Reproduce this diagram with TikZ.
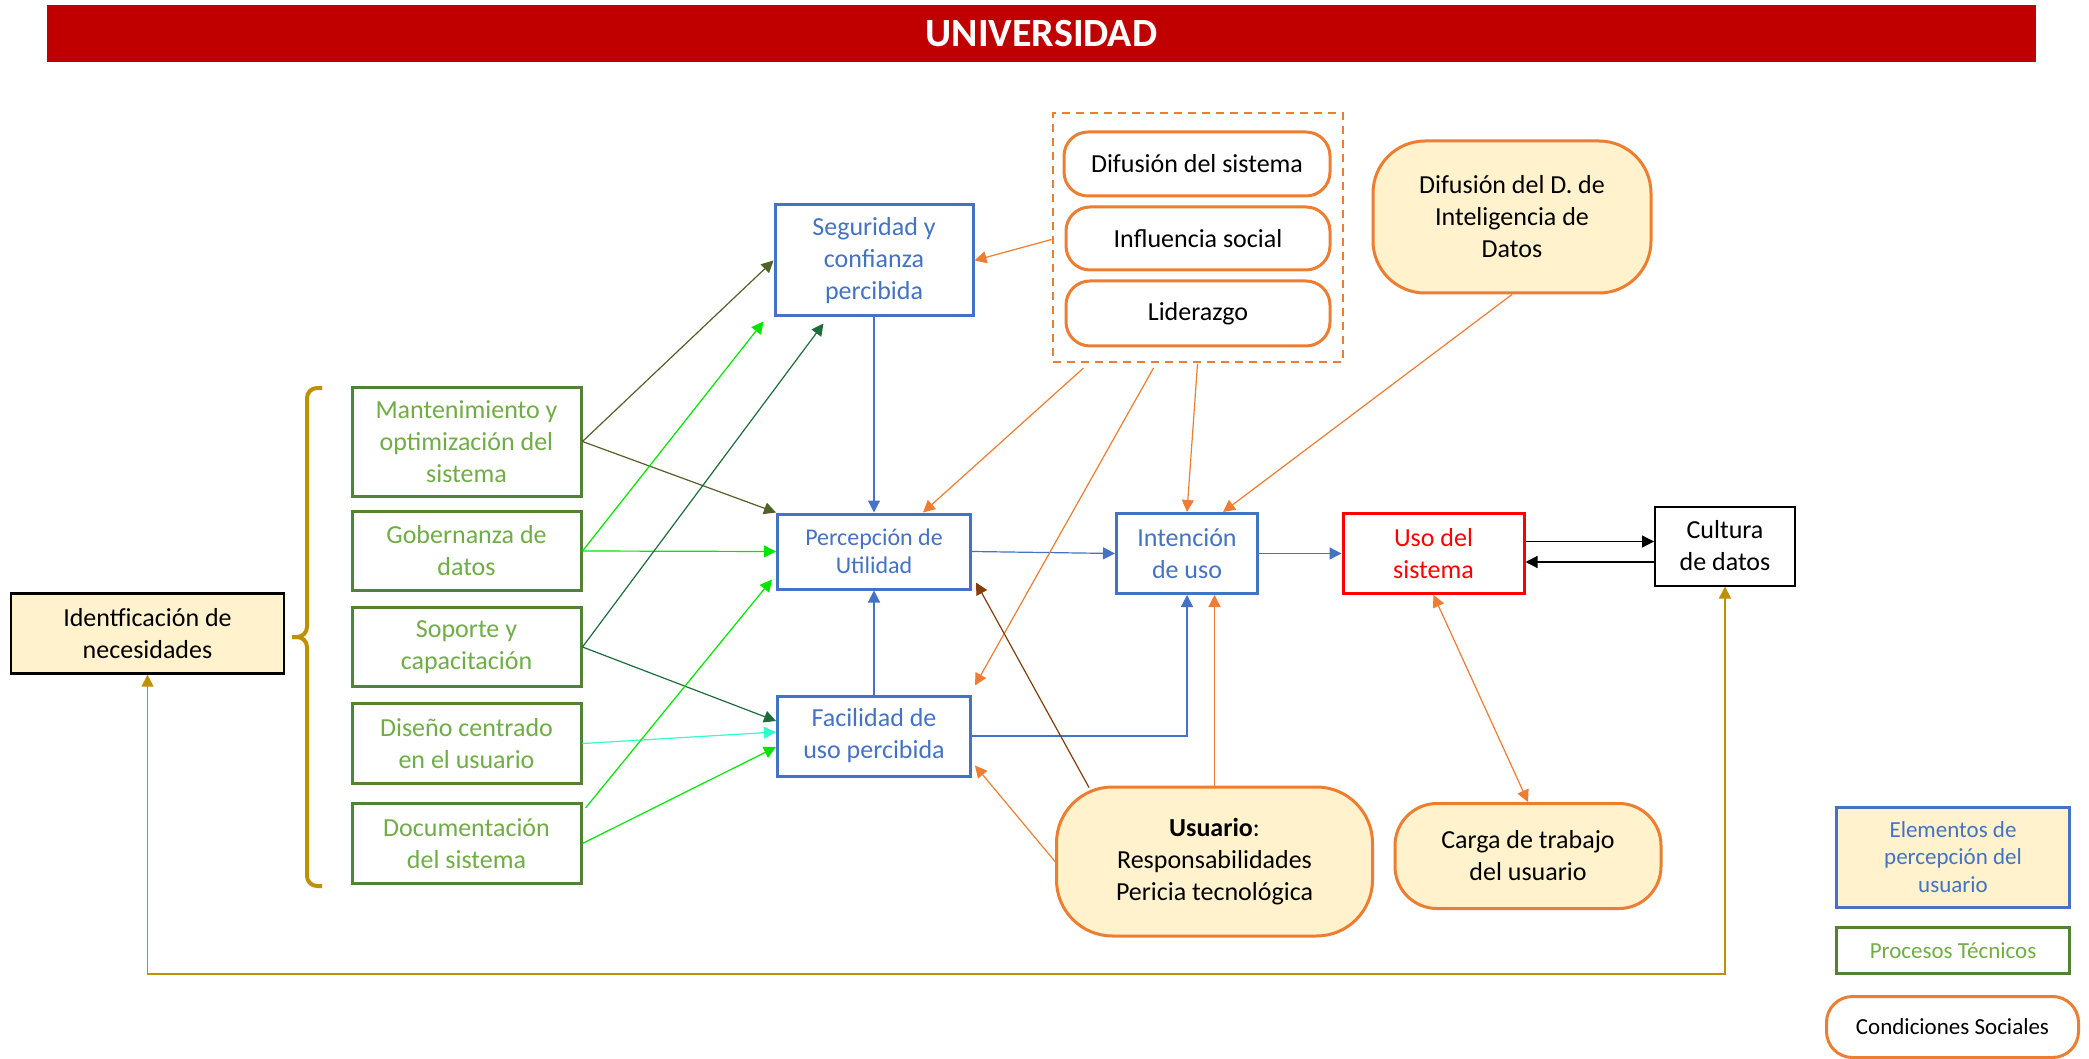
\documentclass[tikz,border=0pt]{standalone}
\usepackage{fontspec}
\setmainfont{Carlito}
\usetikzlibrary{arrows.meta,calc}
\definecolor{ublue}{HTML}{4472C4}
\definecolor{ugreen}{HTML}{70AD47}
\definecolor{dgreen}{HTML}{548235}
\definecolor{uorange}{HTML}{ED7D31}
\definecolor{ucream}{HTML}{FFF2CC}
\definecolor{ured}{HTML}{FF0000}
\definecolor{ubar}{HTML}{C00000}
\definecolor{ugold}{HTML}{BF9000}
\definecolor{olivearr}{HTML}{4F6228}
\definecolor{forestarr}{HTML}{1E6B3C}
\definecolor{limearr}{HTML}{00E600}
\definecolor{aquaarr}{HTML}{33FFCC}
\definecolor{brownarr}{HTML}{843C0C}
\begin{document}
\begin{tikzpicture}[x=0.5pt,y=-0.5pt,
  wh/.style 2 args={minimum width=#1*0.5pt, minimum height=#2*0.5pt},
  box/.style={rectangle, inner sep=2pt, align=center, font=\fontsize{13}{16}\selectfont},
  percbox/.style={box, draw=ublue, line width=1.5pt, text=ublue, fill=white},
  techbox/.style={box, draw=dgreen, line width=1.5pt, text=ugreen, fill=white},
  pill/.style={box, draw=uorange, line width=1.5pt, rounded corners=#1, fill=white},
  pill/.default=12pt,
  creampill/.style={pill=#1, fill=ucream},
  creampill/.default=26pt,
  tip/.style={-{Triangle[length=6pt,width=6pt]}},
  conn/.style={line width=0.6pt, tip},
  olv/.style={conn, color=olivearr},
  frs/.style={conn, color=forestarr},
  lim/.style={conn, color=limearr},
  aqu/.style={conn, color=aquaarr},
  blu/.style={conn, color=ublue},
  blk/.style={conn, color=black},
  orn/.style={conn, color=uorange},
  brn/.style={conn, color=brownarr},
  gld/.style={line width=0.8pt, color=ugold, {Triangle[length=6pt,width=6pt]}-{Triangle[length=6pt,width=6pt]}}
]
\useasboundingbox (0,0) rectangle (2089,1059);

% heading band
\node[wh={1989}{57}, fill=ubar, text=white, font=\bfseries\fontsize{20}{24}\selectfont] (title) at (1041.5,33.5) {UNIVERSIDAD};

% user perception elements
\node[percbox, wh={198}{111}] (seg) at (874,260.5) {Seguridad y\\confianza\\percibida};
\node[percbox, wh={193}{75}, font=\fontsize{12}{14}\selectfont] (per) at (874,551.5) {Percepción de\\Utilidad};
\node[percbox, wh={193}{80}] (fac) at (874,736) {Facilidad de\\uso percibida};
\node[percbox, wh={141}{80}] (int) at (1187,553.5) {Intención\\de uso};

% system use and data culture
\node[box, draw=ured, line width=1.5pt, text=ured, wh={181}{80}] (uso) at (1433.5,553.5) {Uso del\\sistema};
\node[box, draw=black, line width=1pt, wh={140}{79}] (cul) at (1725,546) {Cultura\\de datos};

% technical processes
\node[techbox, wh={229}{109}] (mant) at (466.5,441.5) {Mantenimiento y\\optimización del\\sistema};
\node[techbox, wh={229}{79}] (gob) at (466.5,551) {Gobernanza de\\datos};
\node[techbox, wh={229}{79}] (sop) at (466.5,647) {Soporte y\\capacitación};
\node[techbox, wh={229}{80}] (dis) at (466.5,743.5) {Diseño centrado\\en el usuario};
\node[techbox, wh={229}{80}] (doc) at (466.5,843.5) {Documentación\\del sistema};

% needs identification
\node[box, draw=black, line width=1.2pt, fill=ucream, wh={273}{80}] (ide) at (147.5,633.5) {Identficación de\\necesidades};

% social conditions
\node[draw=uorange, dashed, dash pattern=on 4pt off 3pt, line width=1pt, wh={290}{249}] (soc) at (1197.5,237.5) {};
\node[pill, wh={266}{64}] (difsis) at (1197,164) {Difusión del sistema};
\node[pill, wh={264}{63}] (infl) at (1198,238.5) {Influencia social};
\node[pill, wh={264}{65}] (lid) at (1198,313.5) {Liderazgo};
\node[creampill, wh={278}{152}] (difdat) at (1512,217) {Difusión del D. de\\Inteligencia de\\Datos};
\node[creampill=28pt, wh={316}{149}] (usr) at (1214.5,861.5) {\textbf{Usuario}:\\Responsabilidades\\Pericia tecnológica};
\node[creampill=21pt, wh={266}{105}] (car) at (1528,856) {Carga de trabajo\\del usuario};

% legend
\node[box, draw=ublue, line width=1.5pt, fill=ucream, text=ublue, wh={233}{100}, font=\fontsize{11.5}{13.7}\selectfont] (leg1) at (1953,857) {Elementos de\\percepción del\\usuario};
\node[box, draw=dgreen, line width=1.5pt, text=ugreen, wh={233}{46}, font=\fontsize{11.5}{13.7}\selectfont] (leg2) at (1953,950.5) {Procesos Técnicos};
\node[pill=13pt, wh={252}{61}, font=\fontsize{11.5}{13.7}\selectfont] (leg3) at (1952.5,1027) {Condiciones Sociales};

% grouping brace of the technical processes
\draw[ugold, line width=2pt, rounded corners=5pt] (322,388) -- (307,388) -- (307,637) -- (292,637);
\draw[ugold, line width=2pt, rounded corners=5pt] (292,637) -- (307,637) -- (307,886) -- (322,886);

% technical processes -> perception
\draw[olv] (mant.east) -- (seg.west);
\draw[olv] (mant.east) -- (per.north west);
\draw[lim] (gob.east) -- ($(seg.south west)+(-10,4)$);
\draw[lim] (gob.east) -- (per.west);
\draw[frs] (sop.east) -- ($(seg.south west)+(50,6)$);
\draw[frs] (sop.east) -- ($(fac.west)+(0,-15)$);
\draw[aqu] (dis.east) -- ($(fac.west)+(0,-4)$);
\draw[lim] ($(doc.north east)+(3,6)$) -- ($(per.west)+(-4,28)$);
\draw[lim] (doc.east) -- ($(fac.west)+(0,11)$);

% perception -> intention -> use
\draw[blu] (seg.south) -- (per.north);
\draw[blu] (fac.north) -- (per.south);
\draw[blu] (per.east) -- (int.west);
\draw[blu] (fac.east) -| (int.south);
\draw[blu] (int.east) -- (uso.west);

% use <-> data culture
\draw[blk] ($(uso.east)+(0,-12)$) coordinate (ua) -- (ua -| cul.west);
\draw[blk] ($(cul.west)+(0,16)$) coordinate (cb) -- (cb -| uso.east);

% feedback loop
\coordinate (fbl) at (0,974);
\draw[gld] (ide.south) -- (ide.south |- fbl) -| (cul.south);

% social conditions -> perception and intention
\draw[orn] ($(soc.west)+(0,2)$) -- (seg.east);
\draw[orn] ($(soc.south)+(-114,5)$) -- ($(per.north)+(49,0)$);
\draw[orn] ($(soc.south)+(-44,5)$) -- ($(fac.north east)+(3,-9)$);
\draw[orn] ($(soc.south)+(0,1)$) -- (int.north);
\draw[orn] (difdat.south) -- ($(int.north)+(36,0)$);
\draw[orn] (usr.north) -- (usr.north |- int.south);
\draw[orn] (usr.west) -- ($(fac.south east)+(3,-12)$);
\draw[brn] ($(usr.north west)+(34,2)$) -- ($(per.south east)+(4,-8)$);
\draw[orn, {Triangle[length=6pt,width=6pt]}-{Triangle[length=6pt,width=6pt]}] (uso.south) -- (car.north);
\end{tikzpicture}
\end{document}
